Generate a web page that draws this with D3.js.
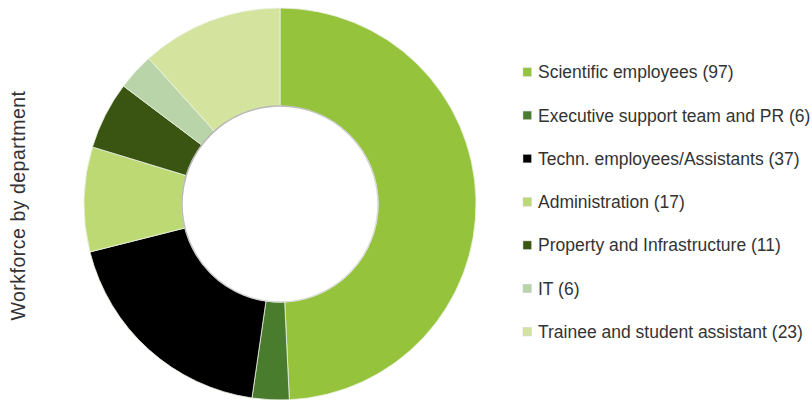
<!DOCTYPE html>
<html>
<head>
<meta charset="utf-8">
<script src="https://cdn.jsdelivr.net/npm/d3@7/dist/d3.min.js"></script>
<style>
  html, body { margin: 0; padding: 0; background: #fff; }
  svg { display: block; }
  text { font-family: "Liberation Sans", Arial, sans-serif; fill: #333; }
</style>
</head>
<body>
<svg id="chart" width="812" height="400"></svg>
<script>
// Workforce headcount per department
const departments = [
  "Scientific employees",
  "Executive support team and PR",
  "Techn. employees/Assistants",
  "Administration",
  "Property and Infrastructure",
  "IT",
  "Trainee and student assistant"
];
const headcount = [97, 6, 37, 17, 11, 6, 23];
const sliceColors = ["#95c33c", "#4a7c2d", "#000000", "#bdd974", "#3a5412", "#b8d4a8", "#d4e49e"];
const axisTitle = "Workforce by department";

const svg = d3.select("#chart");
const cx = 280, cy = 204, outerR = 196, innerR = 98;

const rows = departments.map((name, i) => ({ name, value: headcount[i], color: sliceColors[i] }));

const pie = d3.pie().value(d => d.value).sort(null);
const arc = d3.arc().innerRadius(innerR).outerRadius(outerR);

const ring = svg.append("g").attr("transform", `translate(${cx},${cy})`);
ring.selectAll("path")
  .data(pie(rows))
  .join("path")
  .attr("d", arc)
  .attr("fill", d => d.data.color)
  .attr("stroke", "#eef3e6")
  .attr("stroke-width", 0.8);

// soft grey rim around the hole, stronger toward the upper left
const rimGrad = svg.append("defs").append("linearGradient")
  .attr("id", "rim")
  .attr("x1", "0").attr("y1", "0").attr("x2", "1").attr("y2", "1");
rimGrad.append("stop").attr("offset", "0").attr("stop-color", "#a9a9a9");
rimGrad.append("stop").attr("offset", "0.5").attr("stop-color", "#cfcfcf");
rimGrad.append("stop").attr("offset", "1").attr("stop-color", "#e6e6e6");
ring.append("circle")
  .attr("r", innerR)
  .attr("fill", "none")
  .attr("stroke", "url(#rim)")
  .attr("stroke-width", 1.5);

// vertical axis title
svg.append("text")
  .attr("transform", `translate(25,205.5) rotate(-90)`)
  .attr("text-anchor", "middle")
  .style("font-size", "19.5px")
  .style("letter-spacing", "0.5px")
  .text(axisTitle);

// legend
const legendY = d3.scalePoint().domain(departments).range([72, 331.7]);
const legend = svg.append("g");
const item = legend.selectAll("g")
  .data(rows)
  .join("g")
  .attr("transform", d => `translate(523,${legendY(d.name)})`);
item.append("rect")
  .attr("x", 0).attr("y", -4.2)
  .attr("width", 8.5).attr("height", 8.5)
  .attr("fill", d => d.color)
  .attr("stroke", "#d0d0d0")
  .attr("stroke-width", 0.5);
item.append("text")
  .attr("x", 15)
  .attr("dy", "0.36em")
  .style("font-size", "17.5px")
  .text(d => `${d.name} (${d.value})`);
</script>
</body>
</html>
